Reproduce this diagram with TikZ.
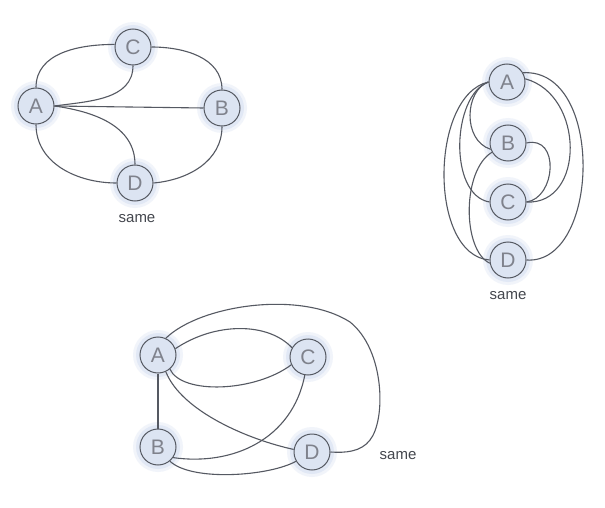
\documentclass[tikz,border=0pt]{standalone}
\usepackage{fontspec}
\setmainfont{Liberation Sans}
\begin{document}
\definecolor{nodefill}{HTML}{DCE4F2}
\definecolor{halo}{HTML}{B4C6E8}
\definecolor{ink}{HTML}{555962}
\definecolor{letter}{HTML}{7F828C}
\begin{tikzpicture}[x=1pt,y=-1pt,
  vertex/.style={circle,draw=ink,line width=1pt,fill=nodefill,minimum size=36pt,inner sep=0pt,
    font=\fontsize{21}{21}\selectfont,text=letter},
  edge/.style={draw=ink,line width=1.1pt},
  caption/.style={font=\fontsize{15}{15}\selectfont,text=ink!80!black}]
\useasboundingbox (0,0) rectangle (605,508);
\fill[white] (0,0) rectangle (605,508);
% soft halo behind every vertex
\newcommand{\glowat}[1]{%
  \fill[halo,opacity=0.18] #1 circle (25pt);
  \fill[halo,opacity=0.25] #1 circle (22pt);}
\foreach \p in {(36,106),(133,47),(222,108),(135,183),
                (507,82),(508,143),(508,202),(508,260),
                (158,355),(308,357),(158,447),(312,452)} {\glowat{\p}}

% ---- first drawing: A, B left/right, C top, D bottom
\node[vertex] (a1) at (36,106) {A};
\node[vertex] (c1) at (133,47) {C};
\node[vertex] (b1) at (222,108) {B};
\node[vertex] (d1) at (135,183) {D};
\node[caption] (s1) at (137,219) {same};
\draw[edge] (a1.north) to[out=90,in=180] (c1.172);
\draw[edge] (c1.east) to[out=0,in=90] (b1.north);
\draw[edge] (c1.south) to[out=-90,in=8] (a1.east);
\draw[edge] (a1.east) -- (b1.west);
\draw[edge] (a1.east) to[out=-8,in=90] (d1.north);
\draw[edge] (a1.south) to[out=-90,in=180] (d1.west);
\draw[edge] (d1.east) to[out=5,in=-90] (b1.south);

% ---- second drawing: vertices stacked in a column
\node[vertex] (a2) at (507,82) {A};
\node[vertex] (b2) at (508,143) {B};
\node[vertex] (c2) at (508,202) {C};
\node[vertex] (d2) at (508,260) {D};
\node[caption] (s2) at (508,296) {same};
\draw[edge] (a2.west) .. controls (465,90) and (462,140) .. (b2.200);
\draw[edge] (a2.west) .. controls (452,95) and (448,195) .. (c2.west);
\draw[edge] (a2.west) .. controls (430,95) and (428,255) .. (d2.west);
\draw[edge] (b2.210) .. controls (462,170) and (462,250) .. (d2.190);
\draw[edge] (a2.10) .. controls (585,95) and (585,205) .. (c2.east);
\draw[edge] (a2.30) .. controls (605,68) and (600,265) .. (d2.east);
\draw[edge] (b2.east) .. controls (560,135) and (556,198) .. (c2.east);

% ---- third drawing: A, C on top, B, D below
\node[vertex] (a3) at (158,355) {A};
\node[vertex] (c3) at (308,357) {C};
\node[vertex] (b3) at (158,447) {B};
\node[vertex] (d3) at (312,452) {D};
\node[caption] (s3) at (398,456) {same};
\draw[edge] (a3.20) .. controls (215,322) and (268,322) .. (c3.150);
\draw[edge] (a3.-50) .. controls (182,395) and (255,392) .. (c3.205);
\draw[edge] (a3.65) .. controls (200,305) and (300,290) .. (350,322)
  .. controls (385,350) and (386,420) .. (370,440)
  .. controls (361,452) and (345,453) .. (d3.east);
\draw[edge] (a3.south) -- (b3.north);
\draw[edge] (a3.-65) .. controls (182,412) and (250,440) .. (d3.172);
\draw[edge] (c3.260) .. controls (292,440) and (232,466) .. (b3.-35);
\draw[edge] (b3.-50) .. controls (192,482) and (270,476) .. (d3.210);
\end{tikzpicture}
\end{document}
